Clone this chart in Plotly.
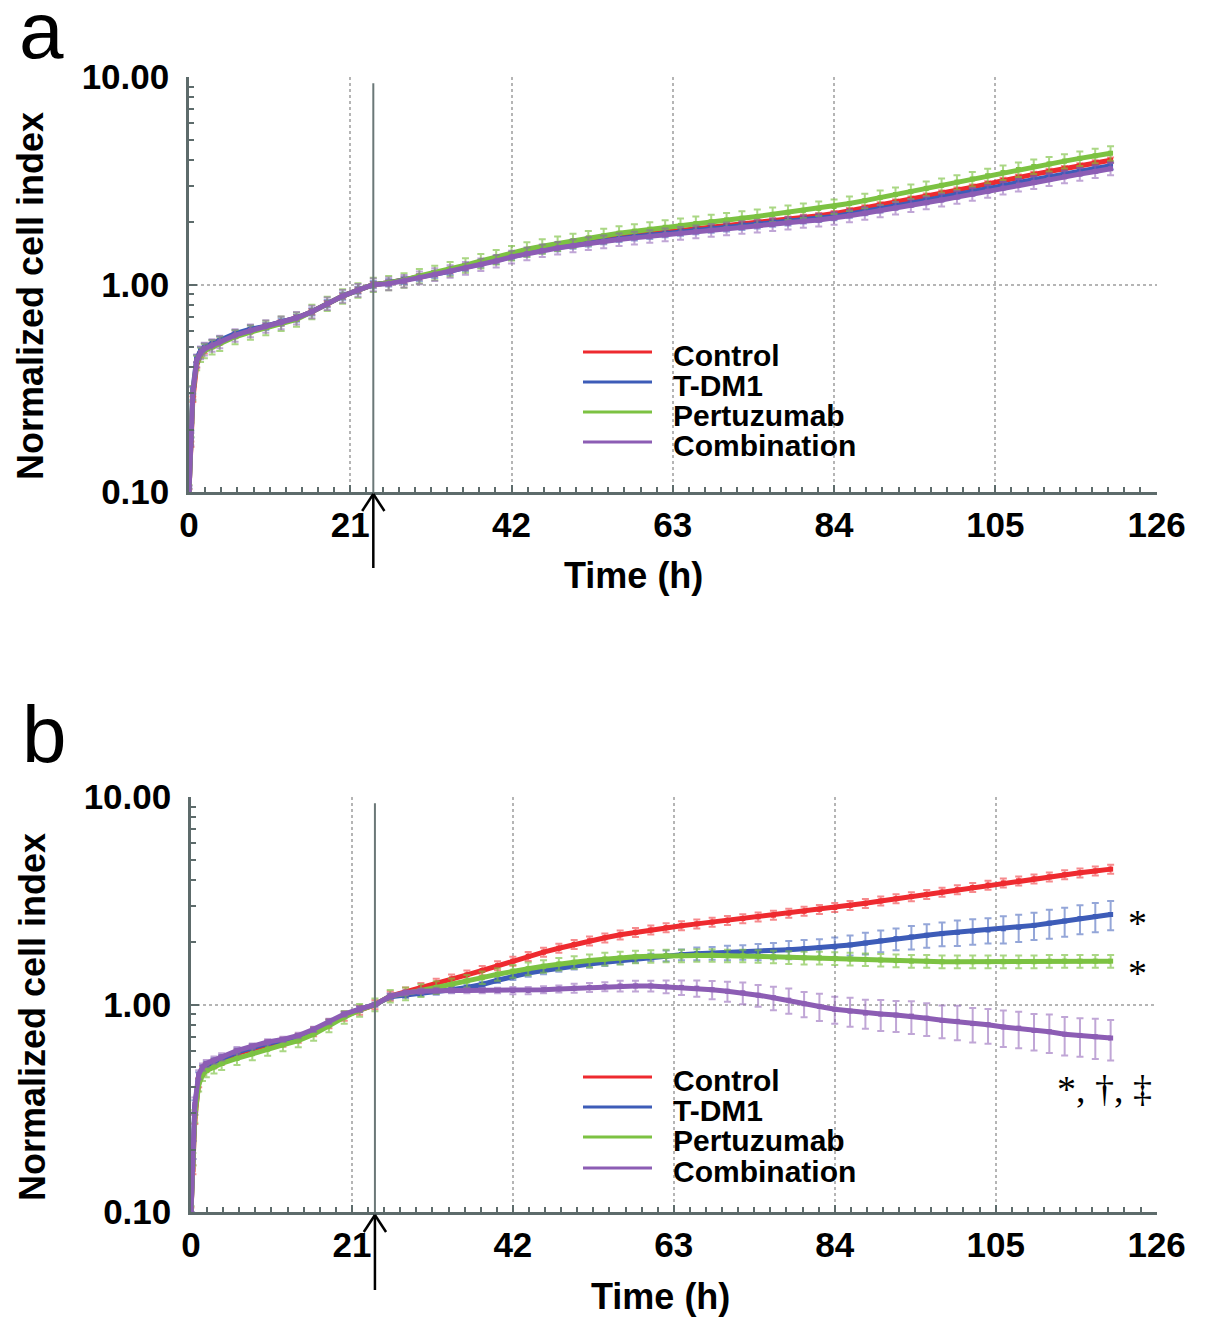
import plotly.graph_objects as go
from plotly.subplots import make_subplots

W, H = 1205, 1331
OFF = 8  # the page body adds 8 px around the figure
FW, FH = W - 2 * OFF, H - 2 * OFF

# sampling times (h), early hours logged more densely
hours = [0, 0.25, 0.5, 1, 1.5, 2, 3, 4, 6, 8, 10, 12, 14, 16, 18, 20, 22,
         24, 26, 28, 30, 32, 34, 36, 38, 40, 42, 44, 46, 48, 50, 52, 54, 56, 58,
         60, 62, 64, 66, 68, 70, 72, 74, 76, 78, 80, 82, 84, 86, 88, 90, 92, 94,
         96, 98, 100, 102, 104, 106, 108, 110, 112, 114, 116, 118, 120]

groups = ["Control", "T-DM1", "Pertuzumab", "Combination"]
colors = ["#ee2a2f", "#3d5cb8", "#7cc242", "#8c5db4"]
bar_colors = ["rgba(238,42,47,0.55)", "rgba(61,92,184,0.55)",
              "rgba(124,194,66,0.65)", "rgba(140,93,180,0.55)"]

# panel a
a_control = [0.10, 0.17, 0.28, 0.41, 0.46, 0.48, 0.51, 0.53, 0.57, 0.60, 0.63, 0.655, 0.69, 0.74, 0.81, 0.88, 0.94,
             1.00, 1.02, 1.05, 1.09, 1.13, 1.17, 1.22, 1.27, 1.33, 1.39, 1.44, 1.49, 1.53, 1.57, 1.61, 1.65,
             1.69, 1.73, 1.76, 1.79, 1.83, 1.86, 1.89, 1.93, 1.96, 1.99, 2.03, 2.07, 2.11, 2.15, 2.20, 2.27,
             2.34, 2.42, 2.50, 2.58, 2.67, 2.76, 2.85, 2.95, 3.06, 3.18, 3.30, 3.40, 3.51, 3.62, 3.74, 3.86, 3.98]
a_tdm1 = [0.10, 0.19, 0.31, 0.44, 0.48, 0.50, 0.52, 0.54, 0.58, 0.61, 0.63, 0.66, 0.69, 0.74, 0.81, 0.88, 0.94,
          1.00, 1.02, 1.05, 1.08, 1.12, 1.16, 1.21, 1.26, 1.31, 1.37, 1.42, 1.47, 1.51, 1.55, 1.59, 1.63,
          1.67, 1.70, 1.73, 1.76, 1.79, 1.82, 1.85, 1.88, 1.91, 1.94, 1.98, 2.01, 2.05, 2.09, 2.13, 2.19,
          2.25, 2.32, 2.40, 2.47, 2.55, 2.63, 2.71, 2.80, 2.90, 3.00, 3.11, 3.20, 3.30, 3.41, 3.51, 3.62, 3.74]
a_pertuzumab = [0.10, 0.20, 0.30, 0.42, 0.46, 0.48, 0.50, 0.52, 0.56, 0.59, 0.62, 0.65, 0.68, 0.74, 0.81, 0.88, 0.94,
                1.00, 1.02, 1.05, 1.10, 1.14, 1.19, 1.24, 1.30, 1.36, 1.42, 1.48, 1.53, 1.58, 1.63, 1.68, 1.72,
                1.77, 1.81, 1.85, 1.89, 1.93, 1.97, 2.01, 2.05, 2.09, 2.13, 2.18, 2.23, 2.28, 2.33, 2.38, 2.46,
                2.54, 2.63, 2.72, 2.81, 2.91, 3.01, 3.12, 3.23, 3.35, 3.47, 3.59, 3.71, 3.82, 3.94, 4.06, 4.18, 4.30]
a_combination = [0.10, 0.18, 0.30, 0.43, 0.47, 0.49, 0.51, 0.53, 0.57, 0.60, 0.63, 0.655, 0.69, 0.74, 0.81, 0.88, 0.94,
                 1.00, 1.01, 1.04, 1.08, 1.12, 1.16, 1.20, 1.25, 1.30, 1.36, 1.41, 1.46, 1.50, 1.54, 1.58, 1.61,
                 1.65, 1.68, 1.71, 1.74, 1.77, 1.80, 1.83, 1.86, 1.89, 1.92, 1.95, 1.98, 2.02, 2.05, 2.09, 2.15,
                 2.21, 2.27, 2.34, 2.41, 2.48, 2.56, 2.64, 2.73, 2.82, 2.92, 3.02, 3.11, 3.21, 3.31, 3.41, 3.51, 3.62]

# panel b
b_control = [0.10, 0.16, 0.28, 0.42, 0.48, 0.50, 0.52, 0.54, 0.58, 0.61, 0.64, 0.66, 0.69, 0.74, 0.81, 0.88, 0.94,
             1.00, 1.10, 1.15, 1.21, 1.27, 1.33, 1.39, 1.46, 1.54, 1.62, 1.71, 1.79, 1.87, 1.95, 2.03, 2.10,
             2.17, 2.23, 2.29, 2.35, 2.40, 2.45, 2.50, 2.55, 2.60, 2.65, 2.70, 2.76, 2.82, 2.88, 2.94, 3.01,
             3.08, 3.16, 3.24, 3.32, 3.40, 3.49, 3.58, 3.67, 3.77, 3.86, 3.95, 4.04, 4.13, 4.23, 4.32, 4.41, 4.50]
b_tdm1 = [0.10, 0.20, 0.32, 0.45, 0.49, 0.51, 0.53, 0.55, 0.59, 0.62, 0.65, 0.67, 0.70, 0.75, 0.82, 0.89, 0.95,
          1.00, 1.09, 1.11, 1.13, 1.15, 1.18, 1.21, 1.25, 1.31, 1.37, 1.42, 1.46, 1.50, 1.54, 1.57, 1.60,
          1.63, 1.66, 1.69, 1.72, 1.74, 1.76, 1.77, 1.78, 1.79, 1.80, 1.82, 1.84, 1.86, 1.88, 1.90, 1.94,
          1.98, 2.03, 2.08, 2.12, 2.16, 2.20, 2.23, 2.26, 2.29, 2.32, 2.36, 2.41, 2.47, 2.53, 2.60, 2.66, 2.72]
b_pertuzumab = [0.10, 0.18, 0.29, 0.41, 0.46, 0.48, 0.50, 0.52, 0.55, 0.58, 0.61, 0.64, 0.67, 0.72, 0.79, 0.87, 0.94,
                1.00, 1.10, 1.13, 1.17, 1.21, 1.25, 1.30, 1.35, 1.40, 1.45, 1.49, 1.53, 1.57, 1.60, 1.63, 1.66,
                1.68, 1.70, 1.71, 1.72, 1.72, 1.73, 1.73, 1.72, 1.72, 1.71, 1.70, 1.69, 1.68, 1.68, 1.67, 1.66,
                1.65, 1.64, 1.63, 1.62, 1.62, 1.61, 1.61, 1.61, 1.61, 1.61, 1.61, 1.61, 1.62, 1.62, 1.62, 1.62, 1.62]
b_combination = [0.10, 0.20, 0.33, 0.46, 0.50, 0.52, 0.54, 0.56, 0.60, 0.63, 0.66, 0.68, 0.71, 0.76, 0.83, 0.90, 0.95,
                 1.00, 1.10, 1.14, 1.16, 1.17, 1.17, 1.17, 1.17, 1.17, 1.17, 1.17, 1.18, 1.19, 1.20, 1.21, 1.22,
                 1.23, 1.23, 1.23, 1.22, 1.21, 1.20, 1.18, 1.16, 1.14, 1.11, 1.08, 1.05, 1.01, 0.98, 0.95, 0.93,
                 0.91, 0.90, 0.89, 0.88, 0.86, 0.84, 0.83, 0.81, 0.80, 0.78, 0.77, 0.75, 0.74, 0.72, 0.71, 0.70, 0.69]

# error bars in % of the value (one number = same all along)
a_err = [3, 4, 8, 7]
b_tdm1_err = [0, 10, 8, 5, 4, 4, 4, 4, 4, 4, 3, 3, 3, 3, 3, 3, 3,
              2, 3, 3, 3, 3, 3, 3, 3, 3, 4, 4, 4, 4, 4, 4, 4, 4, 4, 4,
              6, 6, 7, 7, 8, 8, 9, 9, 10, 10,
              10, 11, 11, 12, 12, 12, 13, 13, 13, 14, 14, 14, 15, 15, 15, 16, 16, 16, 16, 16]
b_combination_err = [0, 10, 8, 5, 4, 4, 4, 4, 4, 3, 3, 3, 3, 3, 3, 3, 3,
                     2, 3, 3, 3, 3, 3, 3, 3, 3, 4, 4, 4, 4, 5, 5, 5, 6, 6, 6,
                     7, 8, 9, 10, 11, 12, 12, 13, 14, 14,
                     15, 15, 16, 16, 17, 17, 18, 18, 18, 19, 19, 19, 20, 20, 20, 21, 21, 21, 22, 22]
b_err = [5, b_tdm1_err, 7, b_combination_err]

x_ticks = [0, 21, 42, 63, 84, 105, 126]
y_ticks = [0.1, 1, 10]
y_labels = ["0.10", "1.00", "10.00"]
treat_time = 24


def px(x):
    # page pixel -> paper fraction
    return (x - OFF) / FW


def py(y):
    return 1 - (y - OFF) / FH


fig = make_subplots(rows=2, cols=1)

panels = [(1, [a_control, a_tdm1, a_pertuzumab, a_combination], a_err),
          (2, [b_control, b_tdm1, b_pertuzumab, b_combination], b_err)]
for row, series, errs in panels:
    for name, col, bar, ys, err in zip(groups, colors, bar_colors, series, errs):
        if isinstance(err, list):
            ey = dict(type="data", array=[v * p / 100 for v, p in zip(ys, err)])
        else:
            ey = dict(type="percent", value=err)
        ey.update(color=bar, thickness=2, width=3.5)
        fig.add_trace(go.Scatter(x=hours, y=ys, name=name, mode="lines+markers",
                                 line=dict(color=col, width=5),
                                 marker=dict(symbol="square", size=5, color=col),
                                 error_y=ey, showlegend=False), row=row, col=1)

axis_col = "#5d6b6b"
grid_col = "#b5b5b5"
tick_font = dict(family="Liberation Sans", size=35, color="black", weight="bold")
minor_y = [m * 10 ** e for e in (-1, 0) for m in range(2, 10)]

boxes = {1: (189, 1157, 77, 492), 2: (191, 1157, 797, 1212)}
for row, (x0, x1, ytop, ybot) in boxes.items():
    fig.update_xaxes(row=row, col=1, domain=[px(x0), px(x1)], range=[0, 126.05],
                     tickmode="array", tickvals=x_ticks, tickfont=tick_font,
                     ticks="inside", ticklen=7, tickwidth=1.5, tickcolor=axis_col,
                     ticklabelstandoff=0,
                     minor=dict(ticks="inside", ticklen=5, tickwidth=1.5, tickcolor=axis_col,
                                tick0=0, dtick=2.1, showgrid=False),
                     showgrid=True, gridcolor=grid_col, gridwidth=1.5, griddash="dot",
                     showline=True, linecolor=axis_col, linewidth=2.5,
                     zeroline=False, automargin=False)
    fig.update_yaxes(row=row, col=1, domain=[py(ybot), py(ytop)], type="log", range=[-1, 1.001],
                     tickmode="array", tickvals=y_ticks, ticktext=y_labels, tickfont=tick_font,
                     ticks="inside", ticklen=8, tickwidth=1.5, tickcolor=axis_col,
                     ticklabelstandoff=10,
                     minor=dict(ticks="inside", ticklen=5, tickwidth=1.5, tickcolor=axis_col,
                                tickmode="array", tickvals=minor_y, showgrid=False),
                     showgrid=True, gridcolor=grid_col, gridwidth=1.5, griddash="dot",
                     showline=True, linecolor=axis_col, linewidth=2.5,
                     zeroline=False, automargin=False)

shapes = []
annotations = []
title_font = dict(family="Liberation Sans", size=36, color="black", weight="bold")
legend_font = dict(family="Liberation Sans", size=30, color="black", weight="bold")

# per panel: axis refs, bottom pixel of the plot, arrow tail, title spots, legend rows
layout_bits = [
    ("x", "y", 492, 568, (30, 296), (633, 575), (17, 30, "a"), [352, 382, 412, 442]),
    ("x2", "y2", 1213, 1290, (32, 1017), (660, 1296), (20, 734, "b"), [1077, 1107, 1137, 1168]),
]
for xr, yr, ybot, ytail, ytitle, xtitle, letter, leg_rows in layout_bits:
    # treatment time marker
    shapes.append(dict(type="line", xref=xr, yref=yr + " domain", x0=treat_time, x1=treat_time,
                       y0=0, y1=0.985, line=dict(color="#6b7878", width=2), layer="above"))
    # arrow under the axis
    shapes.append(dict(type="line", xref=xr, yref="paper", x0=treat_time, x1=treat_time,
                       y0=py(ytail), y1=py(ybot + 2), line=dict(color="black", width=2.5)))
    for dx in (-1.45, 1.45):
        shapes.append(dict(type="line", xref=xr, yref="paper", x0=treat_time, x1=treat_time + dx,
                           y0=py(ybot + 2), y1=py(ybot + 19), line=dict(color="black", width=2.5)))
    annotations.append(dict(text="Normalized cell index", textangle=-90, xref="paper", yref="paper",
                            x=px(ytitle[0]), y=py(ytitle[1]), xanchor="center", yanchor="middle",
                            showarrow=False, font=title_font))
    annotations.append(dict(text="Time (h)", xref="paper", yref="paper",
                            x=px(xtitle[0]), y=py(xtitle[1]), xanchor="center", yanchor="middle",
                            showarrow=False, font=title_font))
    annotations.append(dict(text=letter[2], xref="paper", yref="paper",
                            x=px(letter[0]), y=py(letter[1]), xanchor="left", yanchor="middle",
                            showarrow=False,
                            font=dict(family="Liberation Sans", size=80, color="black")))
    # legend drawn by hand to get the long line keys
    for name, col, yy in zip(groups, colors, leg_rows):
        shapes.append(dict(type="line", xref="paper", yref="paper", x0=px(583), x1=px(652),
                           y0=py(yy), y1=py(yy), line=dict(color=col, width=3)))
        annotations.append(dict(text=name, xref="paper", yref="paper", x=px(671), y=py(yy + 3),
                                xanchor="left", yanchor="middle", height=28, showarrow=False,
                                font=legend_font))

# significance marks, panel b
sig_font = dict(family="Liberation Serif", size=38, color="black")
for text, xx, yy in [("*", 1137, 923), ("*", 1137, 973), ("*, †, ‡", 1104, 1089)]:
    annotations.append(dict(text=text, xref="paper", yref="paper", x=px(xx), y=py(yy),
                            xanchor="center", yanchor="middle", showarrow=False, font=sig_font))

fig.update_layout(width=FW, height=FH, margin=dict(l=0, r=0, t=0, b=0), autosize=False,
                  plot_bgcolor="white", paper_bgcolor="white", template="none",
                  shapes=shapes, annotations=annotations, showlegend=False)

fig.write_html("out.html")
